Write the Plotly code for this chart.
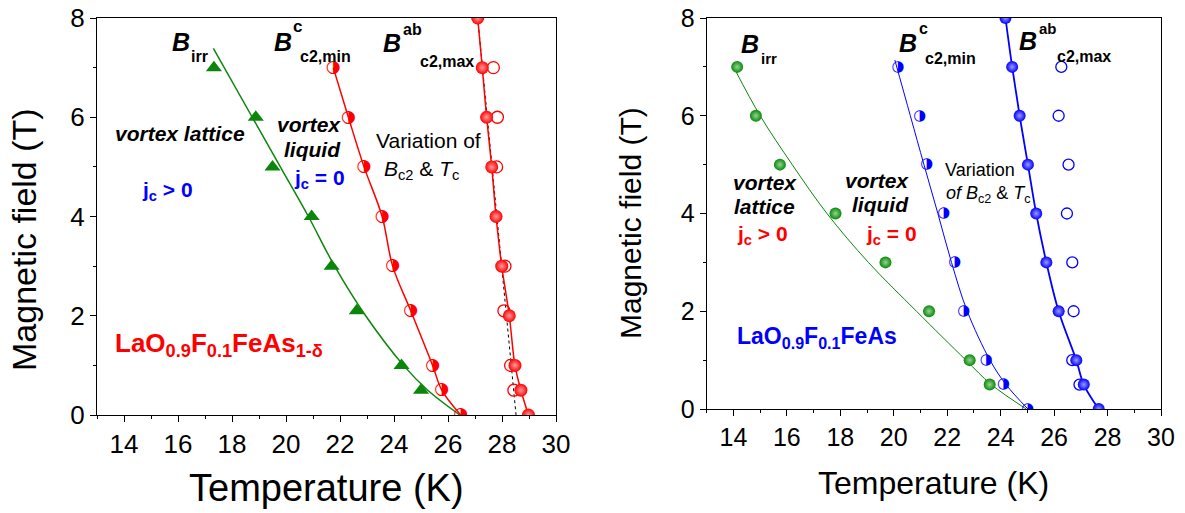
import plotly.graph_objects as go

W, H = 1185, 513

# ---------------- data: left panel (LaO0.9F0.1FeAs1-d) ----------------
L_irr_T = [17.33, 18.88, 19.50, 20.95, 21.69, 22.62, 24.28, 25.00]
L_irr_B = [7, 6, 5, 4, 3, 2.1, 1, 0.5]
L_irr_fit_T = [17.31, 18.75, 19.79, 20.83, 21.80, 22.95, 24.35, 25.25, 26.44]
L_irr_fit_B = [7.39, 6, 5, 4, 3, 2, 1, 0.5, 0]

L_c2min_T = [21.75, 22.31, 22.89, 23.56, 23.95, 24.62, 25.43, 25.77, 26.47]
L_c2min_B = [7, 6, 5, 4, 3, 2.1, 1, 0.5, 0]

L_c2max_T = [27.10, 27.27, 27.43, 27.62, 27.78, 27.99, 28.27, 28.48, 28.70, 28.98]
L_c2max_B = [8, 7, 6, 5, 4, 3, 2, 1, 0.5, 0]
L_open_T = [27.68, 27.83, 27.80, 28.11, 28.07, 28.32, 28.44]
L_open_B = [7, 6, 5, 3, 2.1, 1, 0.5]
L_dot_T = [27.10, 28.52]
L_dot_B = [8, 0]

# ---------------- data: right panel (LaO0.9F0.1FeAs) ----------------
R_irr_T = [14.14, 14.84, 15.74, 17.82, 19.69, 21.32, 22.84, 23.59]
R_irr_B = [7, 6, 5, 4, 3, 2, 1, 0.5]
R_irr_fit_T = [14.06, 15.00, 16.20, 17.50, 19.05, 20.85, 22.70, 23.65, 24.96]
R_irr_fit_B = [6.94, 6, 5, 4, 3, 2, 1, 0.5, 0]

R_c2min_T = [20.16, 20.97, 21.24, 21.87, 22.28, 22.62, 23.46, 24.11, 25.02]
R_c2min_B = [7, 6, 5, 4, 3, 2, 1, 0.5, 0]
R_c2min_fit_T = [20.04, 20.62, 21.13, 21.65, 22.16, 22.75, 23.60, 24.20, 25.02]
R_c2min_fit_B = [7.14, 6, 5, 4, 3, 2, 1, 0.5, 0]

R_c2max_T = [24.18, 24.43, 24.71, 25.02, 25.33, 25.71, 26.17, 26.83, 27.11, 27.67]
R_c2max_B = [8, 7, 6, 5, 4, 3, 2, 1, 0.5, 0]
R_open_T = [26.27, 26.17, 26.54, 26.48, 26.68, 26.73, 26.68, 26.95]
R_open_B = [7, 6, 5, 4, 3, 2, 1, 0.5]

x_ticks = [14, 16, 18, 20, 22, 24, 26, 28, 30]
y_ticks = [0, 2, 4, 6, 8]

RED, BLUE, GREEN = "#ff0000", "#0000ff", "#0b860b"
FONT = "Liberation Sans"

fig = go.Figure()

def line(x, y, color, width, xa, ya, dash="solid", shape="spline"):
    fig.add_trace(go.Scatter(x=x, y=y, mode="lines", xaxis=xa, yaxis=ya,
                             line=dict(color=color, width=width, dash=dash, shape=shape),
                             showlegend=False, hoverinfo="skip"))

def balls(x, y, color, hi, xa, ya, size=12):
    fig.add_trace(go.Scatter(x=x, y=y, mode="markers", xaxis=xa, yaxis=ya,
                             marker=dict(symbol="circle", size=size, color=color,
                                         line=dict(width=0),
                                         gradient=dict(type="radial", color=hi)),
                             showlegend=False))

def opens(x, y, color, xa, ya, size=12):
    fig.add_trace(go.Scatter(x=x, y=y, mode="markers", xaxis=xa, yaxis=ya,
                             marker=dict(symbol="circle-open", size=size, color=color,
                                         line=dict(width=1.3, color=color)),
                             showlegend=False))

def halves(x, y, color, xa, ya, size=15):
    fig.add_trace(go.Scatter(x=x, y=y, mode="text", xaxis=xa, yaxis=ya,
                             text=["\u25D1"] * len(x), textposition="middle center",
                             textfont=dict(family="DejaVu Sans", size=size, color=color),
                             showlegend=False))

# left panel
line(L_irr_fit_T, L_irr_fit_B, GREEN, 1.5, "x", "y")
line(L_c2min_T, L_c2min_B, RED, 1.5, "x", "y")
line(L_dot_T, L_dot_B, "black", 1, "x", "y", dash="dot", shape="linear")
line(L_c2max_T, L_c2max_B, RED, 1.5, "x", "y")
fig.add_trace(go.Scatter(x=L_irr_T, y=L_irr_B, mode="markers", xaxis="x", yaxis="y",
                         marker=dict(symbol="triangle-up", size=14, color=GREEN, line=dict(width=0)),
                         showlegend=False))
opens(L_open_T, L_open_B, RED, "x", "y")
halves(L_c2min_T, L_c2min_B, RED, "x", "y", size=17)
balls(L_c2max_T, L_c2max_B, RED, "#ff9c9c", "x", "y", size=13)

# right panel
line(R_irr_fit_T, R_irr_fit_B, GREEN, 1.0, "x2", "y2")
line(R_c2min_fit_T, R_c2min_fit_B, BLUE, 1.0, "x2", "y2")
line(R_c2max_T, R_c2max_B, BLUE, 1.8, "x2", "y2")
balls(R_irr_T, R_irr_B, GREEN, "#8fd88f", "x2", "y2")
opens(R_open_T, R_open_B, BLUE, "x2", "y2", size=11)
halves(R_c2min_T, R_c2min_B, BLUE, "x2", "y2", size=15)
balls(R_c2max_T, R_c2max_B, BLUE, "#9a9aff", "x2", "y2")

def xaxis(domain, anchor, size):
    return dict(domain=domain, anchor=anchor, range=[13, 30], tickvals=x_ticks,
                automargin=False,
                ticks="outside", ticklen=6, tickwidth=1.2, tickcolor="black",
                minor=dict(ticks="outside", ticklen=3, dtick=1, tick0=13, tickcolor="black", tickwidth=1.2),
                showline=True, linecolor="black", linewidth=1.3, mirror=True,
                showgrid=False, zeroline=False,
                tickfont=dict(family=FONT, size=size, color="black"))

def yaxis(domain, anchor, size):
    return dict(domain=domain, anchor=anchor, range=[0, 8], tickvals=y_ticks,
                automargin=False,
                ticks="outside", ticklen=6, tickwidth=1.2, tickcolor="black",
                minor=dict(ticks="outside", ticklen=3, dtick=1, tick0=0, tickcolor="black", tickwidth=1.2),
                showline=True, linecolor="black", linewidth=1.3, mirror=True,
                showgrid=False, zeroline=False,
                tickfont=dict(family=FONT, size=size, color="black"))

fig.update_layout(
    width=W, height=H, margin=dict(l=0, r=0, t=0, b=0, pad=0),
    paper_bgcolor="white", plot_bgcolor="white", showlegend=False,
    xaxis=xaxis([97 / W, 556 / W], "y", 26),
    yaxis=yaxis([1 - 415 / H, 1 - 18 / H], "x", 26),
    xaxis2=xaxis([706.7 / W, 1161 / W], "y2", 25),
    yaxis2=yaxis([1 - 409 / H, 1 - 18 / H], "x2", 25),
)

anns = []
def ann(text, x, y, size, color="black", xanchor="center", yanchor="middle", angle=0):
    anns.append(dict(text=text, x=x / W, y=1 - y / H, xref="paper", yref="paper",
                     showarrow=False, xanchor=xanchor, yanchor=yanchor, textangle=angle,
                     font=dict(family=FONT, size=size, color=color)))

# axis titles
ann("Magnetic field (T)", 24, 240, 34, angle=-90)
ann("Temperature (K)", 326, 488, 38)
ann("Magnetic field (T)", 631, 223, 30, angle=-90)
ann("Temperature (K)", 933, 483, 32)

# left panel labels
ann("<b><i>B</i></b>", 181, 42, 25)
ann("<b>irr</b>", 189, 56, 16, xanchor="left")
ann("<b><i>B</i></b>", 283, 42, 25)
ann("<b>c</b>", 291, 27, 17, xanchor="left")
ann("<b>c2,min</b>", 298, 56, 16, xanchor="left")
ann("<b><i>B</i></b>", 392, 43, 25)
ann("<b>ab</b>", 401, 29, 16, xanchor="left")
ann("<b>c2,max</b>", 418, 61, 16, xanchor="left")
ann("<b><i>vortex lattice</i></b>", 180, 133, 21)
ann("<b><i>vortex</i></b>", 309, 124.5, 21)
ann("<b><i>liquid</i></b>", 312, 149, 21)
ann("<b>j<sub>c</sub> &gt; 0</b>", 167, 191, 21, color=BLUE)
ann("<b>j<sub>c</sub> = 0</b>", 319, 179, 21, color=BLUE)
ann("Variation of", 428, 140, 21)
ann("<i>B</i><sub>c2</sub> &amp; <i>T</i><sub>c</sub>", 421, 170, 21)
ann("<b>LaO<sub>0.9</sub>F<sub>0.1</sub>FeAs<sub>1-\u03b4</sub></b>", 219, 344, 26, color=RED)

# right panel labels
ann("<b><i>B</i></b>", 750, 44, 25)
ann("<b>irr</b>", 759, 59, 15, xanchor="left")
ann("<b><i>B</i></b>", 908, 43, 25)
ann("<b>c</b>", 917, 28, 16, xanchor="left")
ann("<b>c2,min</b>", 923, 59, 16, xanchor="left")
ann("<b><i>B</i></b>", 1028, 41, 25)
ann("<b>ab</b>", 1037, 28, 15, xanchor="left")
ann("<b>c2,max</b>", 1055, 56, 16, xanchor="left")
ann("<b><i>vortex</i></b>", 765, 182, 21)
ann("<b><i>lattice</i></b>", 764, 207, 21)
ann("<b><i>vortex</i></b>", 877, 180, 21)
ann("<b><i>liquid</i></b>", 880, 204, 21)
ann("<b>j<sub>c</sub> &gt; 0</b>", 762, 235, 21, color=RED)
ann("<b>j<sub>c</sub> = 0</b>", 891, 235, 21, color=RED)
ann("Variation", 980, 170, 18)
ann("<i>of B</i><sub>c2</sub> &amp; <i>T</i><sub>c</sub>", 988, 195, 18)
ann("<b>LaO<sub>0.9</sub>F<sub>0.1</sub>FeAs</b>", 817, 337, 23, color=BLUE)

fig.update_layout(annotations=anns)
fig.write_html("out.html")
